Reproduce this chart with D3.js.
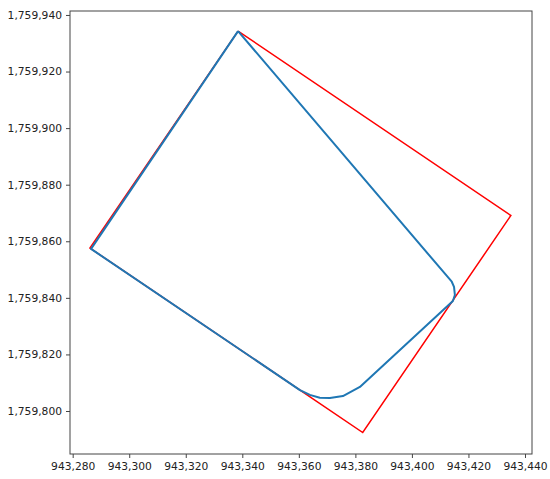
<!DOCTYPE html>
<html>
<head>
<meta charset="utf-8">
<script src="https://cdn.jsdelivr.net/npm/d3@7"></script>
<style>
	body { margin: 0; background: #fff; }
	svg text { font-family: "DejaVu Sans", sans-serif; font-size: 10.7px; fill: #222; }
</style>
</head>
<body>
<div id="canvas"></div>
<script>
// Data (projected coordinates)
var redX = [943338.5, 943435.0, 943382.6, 943286.1, 943338.5],
	redY = [1759934.3, 1759869.1, 1759792.4, 1759857.6, 1759934.3],
	blueX = [943338.5, 943286.5, 943360.4, 943363.9, 943367.4, 943371.0, 943375.6, 943381.6, 943414.5, 943415.2, 943414.9, 943414.1, 943338.5],
	blueY = [1759934.3, 1759857.3, 1759807.4, 1759805.7, 1759804.7, 1759804.6, 1759805.3, 1759808.5, 1759838.9, 1759841.0, 1759843.9, 1759845.7, 1759934.3],
	xTicks = [943280, 943300, 943320, 943340, 943360, 943380, 943400, 943420, 943440],
	yTicks = [1759800, 1759820, 1759840, 1759860, 1759880, 1759900, 1759920, 1759940];

var width = 550, height = 479,
	margin = { left: 70, top: 11, right: 18, bottom: 25 },
	fmt = d3.format(',');

var svg = d3.select('#canvas').append('svg')
	.attr('width', width)
	.attr('height', height);

var x = d3.scaleLinear().domain([943279.05, 943442.48]).range([margin.left, width - margin.right]),
	y = d3.scaleLinear().domain([1759784.8, 1759941.4]).range([height - margin.bottom, margin.top]);

var line = d3.line()
	.x(function(d) { return x(d[0]); })
	.y(function(d) { return y(d[1]); });

// Shapes
svg.append('path')
	.datum(d3.zip(redX, redY))
	.attr('d', line)
	.attr('fill', 'none')
	.attr('stroke', '#ff0000')
	.attr('stroke-width', 1.5);

svg.append('path')
	.datum(d3.zip(blueX, blueY))
	.attr('d', line)
	.attr('fill', 'none')
	.attr('stroke', '#1f77b4')
	.attr('stroke-width', 2)
	.attr('stroke-linejoin', 'round');

// Axes
var xAxis = svg.append('g')
	.attr('transform', 'translate(0,' + (height - margin.bottom) + ')')
	.call(d3.axisBottom(x).tickValues(xTicks).tickFormat(fmt).tickSizeOuter(0).tickSize(4).tickPadding(4));
var yAxis = svg.append('g')
	.attr('transform', 'translate(' + margin.left + ',0)')
	.call(d3.axisLeft(y).tickValues(yTicks).tickFormat(fmt).tickSizeOuter(0).tickSize(4).tickPadding(4));

[xAxis, yAxis].forEach(function(g) {
	g.select('.domain').remove();
	g.selectAll('line').attr('stroke', '#444');
	g.selectAll('text').attr('fill', '#222').style('font-size', '10.7px').style('font-family', '"DejaVu Sans", sans-serif');
});

// Frame
svg.append('rect')
	.attr('x', margin.left)
	.attr('y', margin.top)
	.attr('width', width - margin.right - margin.left)
	.attr('height', height - margin.bottom - margin.top)
	.attr('fill', 'none')
	.attr('stroke', '#444')
	.attr('stroke-width', 1);
</script>
</body>
</html>
